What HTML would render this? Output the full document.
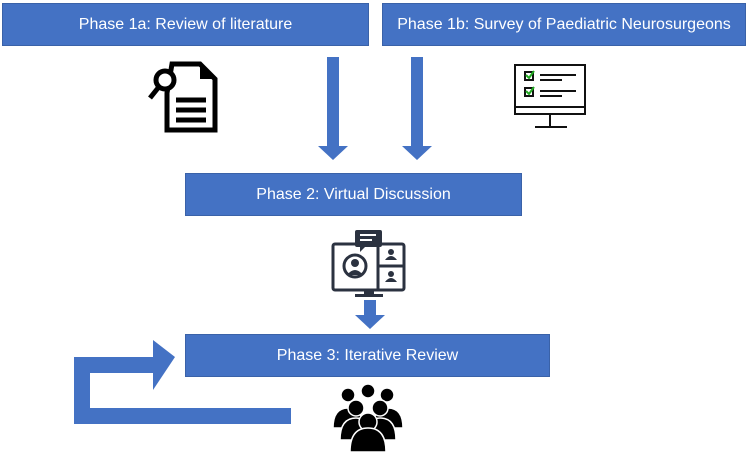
<!DOCTYPE html>
<html><head><style>
body{margin:0;width:749px;height:454px;background:#fff;position:relative;overflow:hidden;font-family:"Liberation Sans",sans-serif}
.b{position:absolute;background:#4472c4;border:1px solid #3a62a8;color:#fff;font-size:16px;display:flex;align-items:center;justify-content:center;box-sizing:border-box}
svg{position:absolute;left:0;top:0}
</style></head><body>
<div class="b" style="left:2px;top:3px;width:367px;height:43px">Phase 1a: Review of literature</div>
<div class="b" style="left:382px;top:3px;width:364px;height:43px">Phase 1b: Survey of Paediatric Neurosurgeons</div>
<div class="b" style="left:185px;top:173px;width:337px;height:43px">Phase 2: Virtual Discussion</div>
<div class="b" style="left:185px;top:334px;width:365px;height:43px">Phase 3: Iterative Review</div>
<svg width="749" height="454">
<g fill="#4472c4">
<polygon points="327,57 339,57 339,146 348,146 333,160 318,146 327,146"/>
<polygon points="411,57 423,57 423,146 432,146 417,160 402,146 411,146"/>
<polygon points="364,300 376,300 376,315 385,315 370,329 355,315 364,315"/>
<polygon points="74,424 291,424 291,408 90,408 90,373 153,373 153,390 175,357 153,340 153,357 74,357"/>
</g>
<!-- literature icon -->
<g fill="none" stroke="#000" stroke-width="5">
<polygon points="167,93 167,130 215,130 215,79 200,64 172,64"/>
<line x1="176" y1="100" x2="206" y2="100"/><line x1="176" y1="110" x2="206" y2="110"/><line x1="176" y1="120" x2="206" y2="120"/>
<circle cx="165" cy="80" r="9" fill="#fff"/>
<line x1="158" y1="88" x2="150" y2="98"/>
</g>
<polygon points="200,64 215,79 200,79" fill="#000"/>
<!-- survey monitor -->
<g fill="none" stroke="#111" stroke-width="2">
<rect x="515" y="65" width="70" height="49"/><line x1="515" y1="107" x2="585" y2="107"/>
<line x1="550" y1="114" x2="550" y2="126"/><line x1="535" y1="127" x2="567" y2="127"/>
<rect x="525" y="72" width="8" height="8"/><rect x="525" y="88" width="8" height="8"/>
<line x1="540" y1="75" x2="576" y2="75"/><line x1="540" y1="80" x2="562" y2="80"/>
<line x1="540" y1="91" x2="576" y2="91"/><line x1="540" y1="96" x2="562" y2="96"/>
</g>
<g stroke="#2a2" stroke-width="2" fill="none"><polyline points="526,75 529,78 534,71"/><polyline points="526,91 529,94 534,87"/></g>
<!-- virtual discussion monitor -->
<g fill="none" stroke="#2b3240" stroke-width="3">
<rect x="333" y="244" width="71" height="46" rx="2"/>
<line x1="378" y1="244" x2="378" y2="290"/><line x1="378" y1="266" x2="404" y2="266"/>
<circle cx="355" cy="266" r="11"/>
</g>
<g fill="#2b3240">
<rect x="355" y="230" width="27" height="17" rx="2"/><polygon points="360,246 366,246 360,252"/>
<circle cx="355" cy="263" r="4"/><path d="M347,275 q8,-10 16,0z"/>
<circle cx="391" cy="252" r="3"/><path d="M385,260 q6,-8 12,0z"/>
<circle cx="391" cy="274" r="3"/><path d="M385,282 q6,-8 12,0z"/>
<rect x="364" y="290" width="10" height="5"/><rect x="355" y="294" width="28" height="3"/>
</g>
<g fill="#fff"><rect x="360" y="234" width="16" height="2"/><rect x="360" y="239" width="12" height="2"/></g>
<!-- people -->
<g fill="#000" stroke="#fff" stroke-width="1.5">
<circle cx="348" cy="395" r="7"/><circle cx="368" cy="391" r="7"/><circle cx="387" cy="395" r="7"/>
<path d="M333,428 q0,-20 15,-20 q15,0 15,20z"/><path d="M373,428 q0,-20 15,-20 q15,0 15,20z"/>
<circle cx="356" cy="408" r="8"/><circle cx="380" cy="408" r="8"/>
<path d="M340,440 q0,-22 16,-22 q16,0 16,22z"/><path d="M364,440 q0,-22 16,-22 q16,0 16,22z"/>
<circle cx="368" cy="422" r="9"/>
<path d="M350,452 q0,-24 18,-24 q18,0 18,24z"/>
</g>
</svg>
</body></html>
